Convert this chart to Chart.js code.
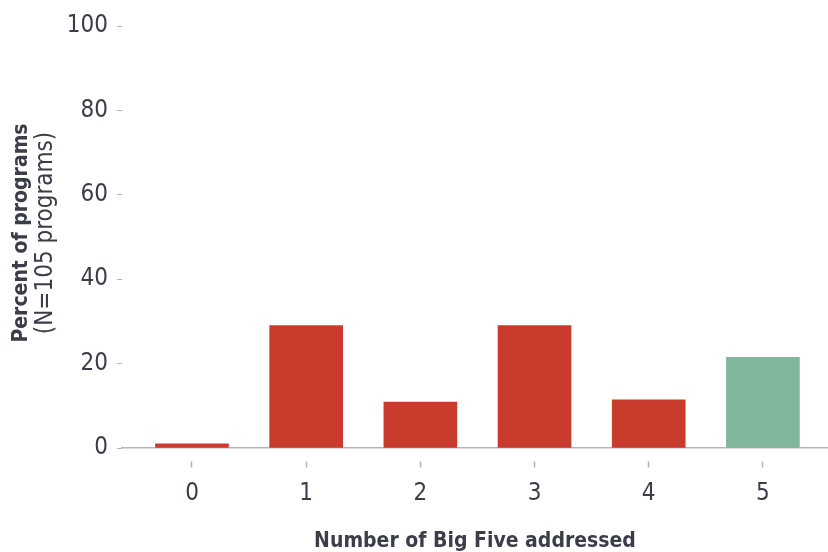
<!DOCTYPE html>
<html lang="en">
<head>
    <meta charset="UTF-8">
    <title>Big Five addressed</title>
    <script src="https://cdn.jsdelivr.net/npm/chart.js"></script>
    <style>
        html, body { margin: 0; padding: 0; background: #fff; }
        #wrap { width: 828px; height: 552px; }
    </style>
</head>
<body>
    <div id="wrap"><canvas id="bigFiveChart" width="828" height="552"></canvas></div>

    <script>
        // data
        const categories = ['0', '1', '2', '3', '4', '5'];
        const percents = [1.0, 29.0, 10.9, 29.0, 11.4, 21.5];
        const barColors = ['#c93c2d', '#c93c2d', '#c93c2d', '#c93c2d', '#c93c2d', '#80b69b'];
        const yTicks = [0, 20, 40, 60, 80, 100];

        const xTitle = 'Number of Big Five addressed';
        const yTitle = 'Percent of programs';
        const ySubTitle = '(N=105 programs)';

        const FONT = "'Liberation Sans Narrow', 'DejaVu Sans Condensed', sans-serif";
        const TEXT = '#3b3e48';

        // two-line y title, first line bold, second regular
        const yTitlePlugin = {
            id: 'yTitle',
            afterDraw(chart) {
                const ctx = chart.ctx;
                const cy = 233;
                ctx.save();
                ctx.fillStyle = TEXT;
                ctx.textAlign = 'center';
                ctx.textBaseline = 'middle';
                ctx.translate(22, cy);
                ctx.rotate(-Math.PI / 2);
                ctx.font = 'bold 21px ' + FONT;
                ctx.fillText(yTitle, 0, 0);
                ctx.font = '24px ' + FONT;
                ctx.fillText(ySubTitle, 0, 24);
                ctx.restore();
            }
        };

        const ctx = document.getElementById('bigFiveChart').getContext('2d');
        new Chart(ctx, {
            type: 'bar',
            data: {
                datasets: [{
                    data: percents.map((v, i) => ({ x: i, y: v })),
                    backgroundColor: barColors,
                    barThickness: 73,
                    borderWidth: 0,
                }],
            },
            plugins: [yTitlePlugin],
            options: {
                responsive: false,
                animation: false,
                layout: { padding: { top: 26, right: 0, left: 0, bottom: 0 } },
                plugins: {
                    legend: { display: false },
                    tooltip: { enabled: false },
                },
                scales: {
                    x: {
                        type: 'linear',
                        offset: false,
                        min: -0.613,
                        max: 5.57,
                        afterBuildTicks: (scale) => {
                            scale.ticks = categories.map((c, i) => ({ value: i }));
                        },
                        afterFit: (scale) => { scale.height = 104; },
                        border: { display: true, color: '#b5b5b5', width: 1.5 },
                        grid: {
                            offset: false,
                            drawOnChartArea: false,
                            drawTicks: true,
                            tickLength: 20,
                            tickColor: '#b0b0b0',
                            tickWidth: 1.5,
                            tickBorderDash: [0, 13, 6, 60],
                        },
                        ticks: {
                            padding: 11,
                            color: TEXT,
                            font: { family: FONT, size: 24 },
                            callback: (v) => categories[v],
                            maxRotation: 0,
                        },
                        title: {
                            display: true,
                            text: xTitle,
                            color: TEXT,
                            font: { family: FONT, size: 21, weight: 'bold', lineHeight: 1 },
                            padding: { top: 0, bottom: 0 },
                        },
                    },
                    y: {
                        min: 0,
                        max: 100,
                        afterBuildTicks: (scale) => {
                            scale.ticks = yTicks.map(v => ({ value: v }));
                        },
                        afterFit: (scale) => { scale.width = 122; },
                        border: { display: false },
                        grid: {
                            drawOnChartArea: false,
                            drawTicks: true,
                            tickLength: 5,
                            tickColor: '#b5b5b5',
                            tickWidth: 1,
                        },
                        ticks: {
                            padding: 9,
                            color: TEXT,
                            font: { family: FONT, size: 24 },
                        },
                    },
                },
            },
        });
    </script>
</body>
</html>
